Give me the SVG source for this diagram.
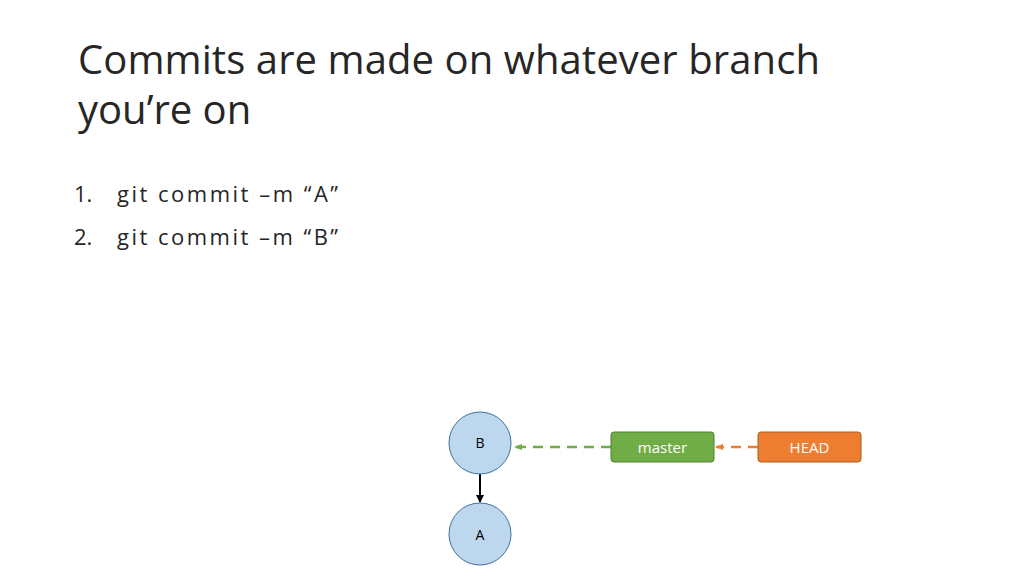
<svg xmlns="http://www.w3.org/2000/svg" width="1024" height="576" viewBox="0 0 1024 576">
<style>
.t{font-family:"Open Sans","Liberation Sans",sans-serif;fill:#262626}
.c{fill:#bdd7ee;stroke:#41719c;stroke-width:1}
.n{font-family:"Open Sans","Liberation Sans",sans-serif;font-size:14px;text-anchor:middle;fill:#000}
.w{font-family:"Open Sans","Liberation Sans",sans-serif;font-size:15px;text-anchor:middle;fill:#fff}
</style>
<defs>
<marker id="ak" markerWidth="8" markerHeight="8" refX="7" refY="4" orient="auto" markerUnits="userSpaceOnUse"><path d="M0,0 L8,4 L0,8z" fill="#000"/></marker>
<marker id="ag" markerWidth="8" markerHeight="8" refX="7" refY="4" orient="auto" markerUnits="userSpaceOnUse"><path d="M0,1 L8,4 L0,7z" fill="#70ad47"/></marker>
<marker id="ao" markerWidth="8" markerHeight="8" refX="7" refY="4" orient="auto" markerUnits="userSpaceOnUse"><path d="M0,1 L8,4 L0,7z" fill="#ed7d31"/></marker>
</defs>
<rect width="1024" height="576" fill="#fff"/>
<text class="t" x="78" y="74" font-size="40" textLength="742">Commits are made on whatever branch</text>
<text class="t" x="78" y="124" font-size="40">you’re on</text>
<text class="t" x="74" y="202" font-size="22">1.</text>
<text class="t" x="117" y="202" font-size="22" textLength="221">git commit –m “A”</text>
<text class="t" x="74" y="245" font-size="22">2.</text>
<text class="t" x="117" y="245" font-size="22" textLength="221">git commit –m “B”</text>
<g id="connectors">
<line x1="480" y1="474" x2="480" y2="502" stroke="#000" stroke-width="2" marker-end="url(#ak)"/>
<line x1="611" y1="447" x2="515" y2="447" stroke="#70ad47" stroke-width="2.5" stroke-dasharray="10,7" marker-end="url(#ag)"/>
<line x1="758" y1="447" x2="716" y2="447" stroke="#ed7d31" stroke-width="2.5" stroke-dasharray="10,7" marker-end="url(#ao)"/>
</g>
<g id="B"><circle class="c" cx="480" cy="443" r="31"/><text class="n" x="480" y="448">B</text></g>
<g id="A"><circle class="c" cx="480" cy="534" r="31"/><text class="n" x="480" y="540">A</text></g>
<g id="master"><rect x="611" y="432" width="103" height="30" rx="3" fill="#70ad47" stroke="#507e32"/><text class="w" x="662.500" y="453">master</text></g>
<g id="HEAD"><rect x="758" y="432" width="103" height="30" rx="3" fill="#ed7d31" stroke="#ae5a21"/><text class="w" x="809.500" y="453">HEAD</text></g>
</svg>
